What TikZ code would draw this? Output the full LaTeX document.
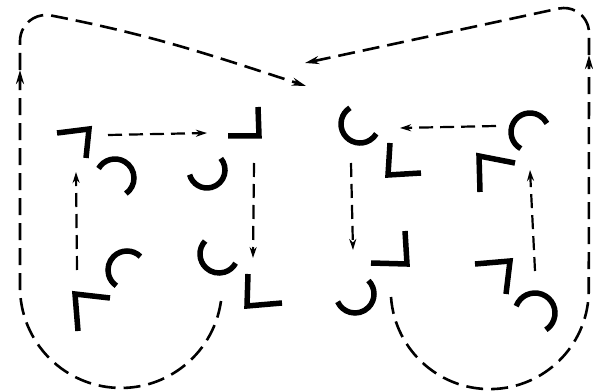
\documentclass[tikz,border=0pt]{standalone}
\usetikzlibrary{arrows.meta}
\begin{document}
\begin{tikzpicture}[x=1pt,y=1pt,
	glyph/.style={line width=5.5pt,line join=miter},
	flow/.style={line width=2.2pt,dash pattern=on 14pt off 7pt,-{Stealth[length=11pt,width=7pt]}},
	loop/.style={line width=2.6pt,dash pattern=on 17pt off 8pt},
	looptip/.style={loop,-{Stealth[length=14pt,width=8pt]}}]
	\useasboundingbox (0,0) rectangle (593,391);

	% left figure
	\draw[glyph] (57,258) -- (89,262) -- (86,233);
	\draw[glyph] (115,213) ++(150:19) arc[start angle=150,end angle=-55,radius=19];
	\draw[glyph] (228,255) -- (259,255) -- (258,284);
	\draw[glyph] (207,221) ++(195:18) arc[start angle=195,end angle=400,radius=18];
	\draw[glyph] (127,121) ++(45:19) arc[start angle=45,end angle=236,radius=19];
	\draw[glyph] (110,93) -- (75,97) -- (78,60);
	\draw[glyph] (219,137) ++(137:19) arc[start angle=137,end angle=331,radius=19];
	\draw[glyph] (248,117) -- (247,85) -- (282,88);

	\coordinate (la1) at (108,256);  \coordinate (la2) at (207,258);
	\coordinate (lb1) at (254,228);  \coordinate (lb2) at (253,133);
	\coordinate (lc1) at (77,121);   \coordinate (lc2) at (76,219);
	\coordinate (lstart) at (221,90);
	\coordinate (lside) at (20,321);
	\coordinate (lend) at (306,305);

	\draw[flow] (la1) -- (la2);
	\draw[flow] (lb1) -- (lb2);
	\draw[flow] (lc1) -- (lc2);
	\draw[looptip] (lstart) arc[start angle=-8,end angle=-180,radius=101] -- (lside);
	\draw[looptip] (lside) -- (20,350) arc[start angle=180,end angle=79,radius=26]
		to[out=-11,in=162] (lend);

	% right figure
	\draw[glyph] (360,267) ++(122:19) arc[start angle=122,end angle=329,radius=19];
	\draw[glyph] (390,248) -- (388,216) -- (421,218);
	\draw[glyph] (530,259) ++(241:19) arc[start angle=241,end angle=27,radius=19];
	\draw[glyph] (515,228) -- (479,235) -- (480,199);
	\draw[glyph] (371,128) -- (407,127) -- (405,160);
	\draw[glyph] (355,97) ++(45:19) arc[start angle=45,end angle=-156,radius=19];
	\draw[glyph] (475,127) -- (510,130) -- (506,97);
	\draw[glyph] (535,78) ++(160:20) arc[start angle=160,end angle=-57,radius=20];

	\coordinate (ra1) at (496,265);  \coordinate (ra2) at (400,263);
	\coordinate (rb1) at (351,228);  \coordinate (rb2) at (353,141);
	\coordinate (rc1) at (535,120);  \coordinate (rc2) at (530,221);
	\coordinate (rstart) at (391,94);
	\coordinate (rside) at (589,336);
	\coordinate (rend) at (305,328);

	\draw[flow] (ra1) -- (ra2);
	\draw[flow] (rb1) -- (rb2);
	\draw[flow] (rc1) -- (rc2);
	\draw[looptip] (rstart) arc[start angle=184,end angle=360,radius=99] -- (rside);
	\draw[looptip] (rside) -- (589,358) arc[start angle=0,end angle=101.6,radius=25] -- (rend);
\end{tikzpicture}
\end{document}
